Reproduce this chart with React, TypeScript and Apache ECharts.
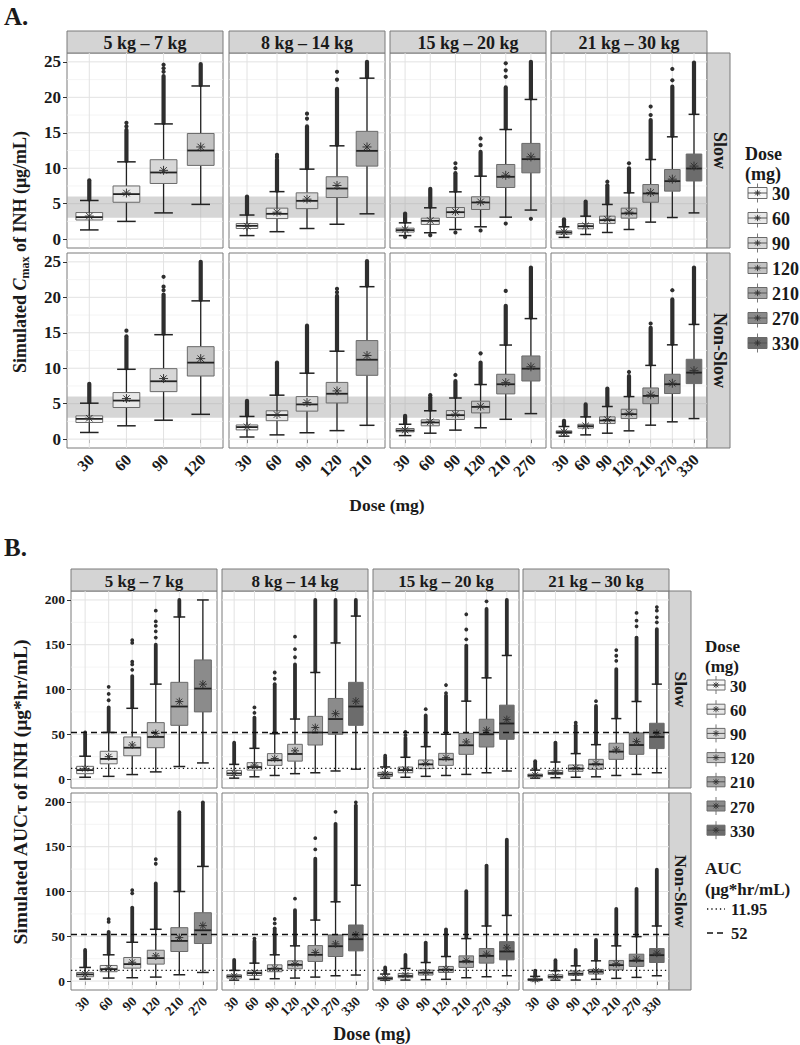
import React, { useEffect, useRef } from "react";
import * as echarts from "echarts";

const DOSES = ["30", "60", "90", "120", "210", "270", "330"];
const WEIGHT_BANDS = ["5 kg – 7 kg", "8 kg – 14 kg", "15 kg – 20 kg", "21 kg – 30 kg"];
const PHENOTYPES = ["Slow", "Non-Slow"];
const DOSE_FILLS = ["#f7f7f7", "#e8e8e8", "#d7d7d7", "#c3c3c3", "#a6a6a6", "#8b8b8b", "#6c6c6c"];

const CMAX_TICKS = [0, 5, 10, 15, 20, 25];
const CMAX_MINOR = [2.5, 7.5, 12.5, 17.5, 22.5];
const CMAX_TARGET_BAND = [3, 6];
const AUC_TICKS = [0, 50, 100, 150, 200];
const AUC_MINOR = [25, 75, 125, 175];
const AUC_TARGETS = [11.95, 52];

// each box: [low whisker, Q1, median, Q3, high whisker, mean, top of dense outliers, [single outliers]]
// ---- A. Cmax, Slow ----
const cmaxSlow5to7 = [
  [1.3, 2.7, 3.1, 3.75, 5.45, 3.25, 8.3, []],
  [2.5, 5.2, 6.35, 7.5, 10.9, 6.5, 15.4, [15.9, 16.4]],
  [3.7, 7.85, 9.4, 11.2, 16.25, 9.7, 23.0, [23.6, 24.1, 24.6]],
  [4.9, 10.4, 12.5, 14.9, 21.6, 13.0, 24.7, []],
];
const cmaxSlow8to14 = [
  [0.5, 1.5, 1.88, 2.2, 3.4, 1.83, 6.0, []],
  [1.05, 2.9, 3.57, 4.37, 6.7, 3.8, 11.2, [11.6, 11.9]],
  [1.5, 4.3, 5.4, 6.53, 9.87, 5.64, 15.9, [17.0, 17.7]],
  [2.1, 5.87, 7.14, 8.8, 13.16, 7.57, 21.2, [22.5, 23.6]],
  [3.57, 10.3, 12.45, 15.2, 22.7, 13.0, 25.0, []],
];
const cmaxSlow15to20 = [
  [0.5, 1.0, 1.27, 1.55, 2.3, 1.36, 3.6, [0.3]],
  [0.9, 2.07, 2.58, 2.96, 4.42, 2.63, 7.1, [0.56]],
  [1.36, 3.05, 3.8, 4.46, 6.67, 3.9, 9.3, [0.94, 10.0, 10.7]],
  [1.74, 4.18, 5.17, 5.97, 8.88, 5.26, 12.3, [1.22, 13.25, 14.2]],
  [3.1, 7.28, 8.79, 10.53, 15.46, 9.0, 21.4, [2.2, 22.9, 23.8, 24.8]],
  [4.1, 9.35, 11.28, 13.5, 19.7, 11.6, 25.0, [2.87]],
];
const cmaxSlow21to30 = [
  [0.25, 0.7, 0.94, 1.17, 1.74, 1.03, 2.8, []],
  [0.66, 1.46, 1.83, 2.2, 3.24, 1.88, 5.3, []],
  [0.94, 2.2, 2.68, 3.24, 4.89, 2.82, 7.6, [8.1]],
  [1.36, 2.96, 3.62, 4.37, 6.53, 3.8, 10.0, [10.7]],
  [2.4, 5.2, 6.44, 7.7, 11.23, 6.58, 16.8, [17.5, 18.7]],
  [3.05, 6.77, 8.18, 9.82, 14.43, 8.46, 21.5, [22.4, 24.0]],
  [3.7, 8.2, 9.96, 12.0, 17.6, 10.3, 24.9, []],
];
// ---- A. Cmax, Non-Slow ----
const cmaxNonSlow5to7 = [
  [0.94, 2.35, 2.86, 3.28, 5.07, 2.95, 7.8, []],
  [1.88, 4.46, 5.44, 6.57, 9.85, 5.72, 14.5, [15.3]],
  [2.67, 6.7, 8.16, 9.94, 14.73, 8.54, 20.4, [21.0, 21.5, 22.9]],
  [3.5, 8.9, 10.79, 13.04, 19.5, 11.35, 25.0, []],
];
const cmaxNonSlow8to14 = [
  [0.3, 1.3, 1.7, 2.0, 3.2, 1.74, 5.4, []],
  [0.6, 2.6, 3.4, 4.0, 6.2, 3.47, 10.8, []],
  [0.9, 3.95, 4.9, 6.0, 9.3, 5.16, 16.0, []],
  [1.2, 5.1, 6.4, 8.0, 12.4, 6.8, 20.2, [20.7, 21.2]],
  [1.95, 9.0, 11.2, 13.9, 21.5, 11.8, 25.1, []],
];
const cmaxNonSlow15to20 = [
  [0.5, 1.03, 1.22, 1.5, 2.1, 1.27, 3.3, []],
  [0.84, 1.88, 2.35, 2.72, 4.0, 2.44, 5.9, [6.2]],
  [1.27, 2.77, 3.38, 4.03, 5.8, 3.52, 8.2, [9.05]],
  [1.6, 3.7, 4.55, 5.35, 7.7, 4.64, 10.8, [12.1]],
  [2.8, 6.38, 7.74, 9.15, 13.27, 7.97, 18.8, [20.9]],
  [3.6, 8.2, 9.94, 11.73, 17.0, 10.2, 24.2, []],
];
const cmaxNonSlow21to30 = [
  [0.42, 0.8, 0.98, 1.17, 1.78, 1.03, 2.58, []],
  [0.6, 1.55, 1.83, 2.1, 3.14, 1.88, 4.9, []],
  [0.84, 2.2, 2.63, 3.14, 4.6, 2.77, 7.13, []],
  [1.17, 2.9, 3.52, 4.22, 6.0, 3.66, 8.9, [9.47]],
  [1.97, 5.0, 6.1, 7.22, 10.4, 6.24, 15.7, [16.3]],
  [2.44, 6.43, 7.74, 9.15, 13.3, 7.88, 19.7, [21.0]],
  [2.9, 7.83, 9.38, 11.26, 16.18, 9.66, 24.2, []],
];
// ---- B. AUC, Slow ----
const aucSlow5to7 = [
  [2, 6, 10, 14.2, 25.5, 11.5, 50, [52]],
  [3, 17, 22.5, 31, 52, 25, 80, [88, 95, 103]],
  [5, 26, 35, 47, 79, 38, 115, [122, 128, 131, 152, 155]],
  [8, 35, 47, 63, 106, 51, 150, [158, 165, 171, 176, 188]],
  [14, 60, 81, 108, 181, 86.5, 200, []],
  [18, 75, 101, 133, 200, 106, null, []],
];
const aucSlow8to14 = [
  [1, 4, 6.3, 9.7, 16.4, 6.5, 39, [40.6]],
  [2.5, 10, 13.4, 18.3, 34.3, 15.5, 68.7, [74, 80]],
  [4, 15.3, 21, 28.4, 50.7, 23, 106, [112, 119]],
  [6, 20, 28, 38.8, 67, 31.5, 128, [136, 145, 159]],
  [7, 38, 52, 70, 119, 57.5, 200, []],
  [9, 50, 67, 90, 152, 73, 200, []],
  [11, 60, 81, 108, 182, 87, 200, []],
];
const aucSlow15to20 = [
  [1, 3, 5, 7.5, 13.5, 5.8, 24, [26]],
  [2, 7, 10, 13.4, 24.3, 10.8, 46, [49, 52.6]],
  [3, 11.6, 16.4, 21.3, 36.2, 17.5, 71, [78]],
  [4, 15.3, 22, 28.7, 50, 23.9, 93, [96, 105]],
  [5.2, 27.6, 37.7, 51, 87, 41.4, 149, [156, 167, 184]],
  [7, 35.8, 50, 66.8, 113, 54.5, 190, [198.5]],
  [9, 44.4, 62, 82.5, 138, 66.4, 200, []],
];
const aucSlow21to30 = [
  [1, 2.5, 4, 5.5, 10, 4.5, 20, []],
  [1.5, 5, 6.7, 9.7, 19, 7.8, 40.7, []],
  [2, 8.6, 11.6, 15.7, 28.4, 12.7, 60, [63]],
  [2.5, 10.8, 16.4, 22, 38.4, 17.5, 81.7, [87]],
  [4, 22, 30.6, 40, 67.5, 32.5, 122.8, [132, 137.7, 144]],
  [5.2, 27.6, 38, 51.5, 86.6, 41.8, 158, [170.5, 177, 185.5]],
  [7, 34, 47, 62.3, 106, 51, 167.5, [175, 180.6, 188, 192]],
];
// ---- B. AUC, Non-Slow ----
const aucNonSlow5to7 = [
  [2.2, 4.8, 7.4, 9.6, 15.2, 7.8, 33, [34.8]],
  [3.3, 10.4, 13.3, 17.4, 29.3, 14.4, 55, [66, 69]],
  [3.7, 14.4, 18.9, 26.3, 43.3, 21, 82, [98, 101.5]],
  [4.4, 18.9, 25.6, 34.4, 57.8, 28.1, 109, [131, 136]],
  [7, 33, 44.8, 59.6, 100, 48.5, 186.7, [188.5]],
  [9.6, 41.9, 56.7, 76.3, 128, 61.9, 199.6, []],
];
const aucNonSlow8to14 = [
  [1, 3.3, 5.2, 7, 11.9, 5.6, 23.7, []],
  [1.9, 6.3, 8.9, 11.5, 20, 9.6, 44.8, [47.4]],
  [2.6, 10.4, 13.7, 18.1, 29.3, 14.4, 58.9, [64.4, 69.3]],
  [3.3, 13.7, 18.1, 22.6, 39.3, 19.3, 79.3, [92]],
  [4.4, 21.9, 29.3, 39.6, 68.1, 31.9, 136.7, [147, 159.6]],
  [5.9, 27.4, 38.9, 51.5, 88.5, 41.5, 175.6, [189]],
  [6.7, 33.7, 46.7, 62.6, 107, 51.5, 196, [199.6]],
];
const aucNonSlow15to20 = [
  [1, 1.5, 3, 4.4, 7.8, 3.3, 15.2, []],
  [1.1, 3.7, 5.6, 8.5, 14, 6.7, 29.3, []],
  [1.5, 6.7, 9.3, 12.2, 20.7, 10, 43, []],
  [1.9, 9.6, 12.6, 16.3, 27.4, 13.3, 57.8, []],
  [3.7, 15.2, 21.5, 28.1, 47.4, 23, 100.4, []],
  [4.8, 20, 28.1, 36.3, 61.5, 30, 128.9, []],
  [5.9, 23.7, 33, 44, 73.3, 37, 157.8, []],
];
const aucNonSlow21to30 = [
  [0.5, 0.7, 1.5, 2.6, 5.2, 1.9, 11.5, []],
  [1, 3.3, 4.8, 7, 11.5, 5.2, 23.3, []],
  [1.1, 6.3, 8.1, 11.1, 17, 8.9, 34.8, []],
  [1.9, 7.8, 10.4, 13, 22.6, 11.1, 45.9, []],
  [3, 12.6, 17.8, 23, 39.3, 19.3, 80.7, []],
  [4.1, 16.3, 22.6, 30, 49.6, 24.4, 103, []],
  [5.9, 20.7, 28.9, 36.3, 61.5, 31.1, 124.4, []],
];

const FONT = '"Liberation Serif", "Times New Roman", serif';
const INK = "#1a1a1a";

type Spec = {
  panels: any[][][];
  colLeft: number[];
  colWidth: number;
  rowTop: number[];
  rowHeight: number;
  stripTop: number;
  stripH: number;
  rightStripW: number;
  yMin: number;
  yMax: number;
  ticks: number[];
  minor: number[];
  band?: number[];
  refs?: number[];
  tickFont: number;
  xFont: number;
  stripFont: number;
  rightStripFont: number;
  dotR: number;
  denseW: number;
  starR: number;
};

function buildFigure(spec: Spec, startIndex: number, grids: any[], xAxes: any[], yAxes: any[], series: any[], graphics: any[]) {
  let g = startIndex;
  for (let r = 0; r < 2; r++) {
    for (let c = 0; c < 4; c++) {
      const rows = spec.panels[r][c];
      const n = rows.length;
      const idx = rows.map((_: any, i: number) => i + 1);
      const bottom = r === 1;
      grids.push({
        left: spec.colLeft[c],
        top: spec.rowTop[r],
        width: spec.colWidth,
        height: spec.rowHeight,
        show: true,
        backgroundColor: "#ffffff",
        borderColor: "#7a7a7a",
        borderWidth: 1,
        containLabel: false,
        outerBoundsMode: "none",
      });
      xAxes.push({
        gridIndex: g,
        type: "value",
        min: 0.4,
        max: n + 0.6,
        splitLine: { show: false },
        axisLine: { show: false },
        axisTick: { show: bottom, customValues: idx, length: 4, lineStyle: { color: "#333" } },
        axisLabel: { show: false },
      });
      yAxes.push({
        gridIndex: g,
        type: "value",
        min: spec.yMin,
        max: spec.yMax,
        splitLine: { show: false },
        axisLine: { show: false },
        axisTick: { show: c === 0, customValues: spec.ticks, length: 4, lineStyle: { color: "#333" } },
        axisLabel: {
          show: c === 0,
          customValues: spec.ticks,
          margin: 6,
          showMinLabel: true,
          showMaxLabel: true,
          fontFamily: FONT,
          fontWeight: "bold",
          fontSize: spec.tickFont,
          color: INK,
        },
      });
      // background grid lines + target band
      series.push({
        type: "custom",
        xAxisIndex: g,
        yAxisIndex: g,
        z: 1,
        silent: true,
        data: [[1, 0]],
        encode: { x: 0, y: 1 },
        renderItem: (_p: any, api: any) => {
          const ch: any[] = [];
          const hline = (v: number, color: string, w: number) => {
            const a = api.coord([0.4, v]);
            const b = api.coord([n + 0.6, v]);
            ch.push({ type: "line", shape: { x1: a[0], y1: a[1], x2: b[0], y2: b[1] }, style: { stroke: color, lineWidth: w } });
          };
          spec.minor.forEach((v) => hline(v, "#f1f1f1", 0.7));
          spec.ticks.forEach((v) => hline(v, "#e2e2e2", 1));
          idx.forEach((k: number) => {
            const a = api.coord([k, spec.yMin]);
            const b = api.coord([k, spec.yMax]);
            ch.push({ type: "line", shape: { x1: a[0], y1: a[1], x2: b[0], y2: b[1] }, style: { stroke: "#e2e2e2", lineWidth: 1 } });
          });
          if (spec.band) {
            const a = api.coord([0.4, spec.band[1]]);
            const b = api.coord([n + 0.6, spec.band[0]]);
            ch.push({ type: "rect", shape: { x: a[0], y: a[1], width: b[0] - a[0], height: b[1] - a[1] }, style: { fill: "rgba(165,165,165,0.45)" } });
          }
          return { type: "group", children: ch };
        },
      });
      // rotated dose labels under the bottom row
      if (bottom) {
        series.push({
          type: "custom",
          xAxisIndex: g,
          yAxisIndex: g,
          z: 6,
          silent: true,
          clip: false,
          data: idx.map((k: number) => [k, spec.yMin]),
          encode: { x: 0, y: 1 },
          renderItem: (params: any, api: any) => {
            const p = api.coord([api.value(0), spec.yMin]);
            return {
              type: "text",
              x: p[0] + 2,
              y: p[1] + 9,
              rotation: Math.PI / 4,
              style: {
                text: DOSES[params.dataIndex],
                font: `bold ${spec.xFont}px ${FONT}`,
                fill: INK,
                align: "right",
                verticalAlign: "middle",
                textAlign: "right",
                textVerticalAlign: "middle",
              },
            };
          },
        });
      }
      // boxes
      const boxHalf = 0.36;
      const capHalf = 0.25;
      series.push({
        type: "custom",
        xAxisIndex: g,
        yAxisIndex: g,
        z: 3,
        silent: true,
        data: rows.map((row: any[], i: number) => [i + 1, row[0], row[6] == null ? row[4] : row[6]]),
        encode: { x: 0, y: [1, 2] },
        renderItem: (params: any, api: any) => {
          const i = params.dataIndex;
          const [lo, q1, med, q3, hi, mean, dense, dots] = rows[i];
          const x = i + 1;
          const P = (xx: number, yy: number) => api.coord([xx, yy]);
          const ch: any[] = [];
          const line = (a: number[], b: number[], stroke: string, w: number) =>
            ch.push({ type: "line", shape: { x1: a[0], y1: a[1], x2: b[0], y2: b[1] }, style: { stroke, lineWidth: w, lineCap: "butt" } });
          if (dense != null) {
            const a = P(x, hi);
            const b = P(x, dense);
            ch.push({ type: "line", shape: { x1: a[0], y1: a[1] - 1, x2: b[0], y2: b[1] }, style: { stroke: "#2e2e2e", lineWidth: spec.denseW, lineCap: "round" } });
          }
          (dots as number[]).forEach((v) => {
            const p = P(x, v);
            ch.push({ type: "circle", shape: { cx: p[0], cy: p[1], r: spec.dotR }, style: { fill: "#2e2e2e" } });
          });
          // whiskers
          line(P(x, lo), P(x, q1), "#222", 1.3);
          line(P(x, q3), P(x, hi), "#222", 1.3);
          line(P(x - capHalf, lo), P(x + capHalf, lo), "#222", 1.5);
          line(P(x - capHalf, hi), P(x + capHalf, hi), "#222", 1.5);
          // box
          const tl = P(x - boxHalf, q3);
          const br = P(x + boxHalf, q1);
          ch.push({
            type: "rect",
            shape: { x: tl[0], y: tl[1], width: br[0] - tl[0], height: br[1] - tl[1] },
            style: { fill: DOSE_FILLS[i], stroke: "#6a6a6a", lineWidth: 1 },
          });
          line(P(x - boxHalf, med), P(x + boxHalf, med), "#222", 1.8);
          // mean asterisk
          const m = P(x, mean);
          const s = spec.starR;
          const d = s * 0.72;
          line([m[0], m[1] - s], [m[0], m[1] + s], "#333", 1);
          line([m[0] - s, m[1]], [m[0] + s, m[1]], "#333", 1);
          line([m[0] - d, m[1] - d], [m[0] + d, m[1] + d], "#333", 1);
          line([m[0] - d, m[1] + d], [m[0] + d, m[1] - d], "#333", 1);
          return { type: "group", children: ch };
        },
      });
      if (spec.refs) {
        series.push({
          type: "custom",
          xAxisIndex: g,
          yAxisIndex: g,
          z: 5,
          silent: true,
          data: [[1, 0]],
          encode: { x: 0, y: 1 },
          renderItem: (_p: any, api: any) => {
            const ch: any[] = [];
            spec.refs!.forEach((v, k) => {
              const a = api.coord([0.4, v]);
              const b = api.coord([n + 0.6, v]);
              ch.push({
                type: "line",
                shape: { x1: a[0], y1: a[1], x2: b[0], y2: b[1] },
                style: { stroke: "#111", lineWidth: 1.3, lineDash: k === 0 ? [1.3, 3] : [6, 4] },
              });
            });
            return { type: "group", children: ch };
          },
        });
      }
      g++;
    }
  }
  // strips
  for (let c = 0; c < 4; c++) {
    graphics.push({
      type: "rect",
      shape: { x: spec.colLeft[c], y: spec.stripTop, width: spec.colWidth, height: spec.stripH },
      style: { fill: "#d4d4d4", stroke: "#7a7a7a", lineWidth: 1 },
    });
    graphics.push({
      type: "text",
      x: spec.colLeft[c] + spec.colWidth / 2,
      y: spec.stripTop + spec.stripH / 2 + 1,
      style: {
        text: WEIGHT_BANDS[c],
        font: `bold ${spec.stripFont}px ${FONT}`,
        fill: INK,
        align: "center",
        verticalAlign: "middle",
        textAlign: "center",
        textVerticalAlign: "middle",
      },
    });
  }
  const rx = spec.colLeft[3] + spec.colWidth;
  for (let r = 0; r < 2; r++) {
    graphics.push({
      type: "rect",
      shape: { x: rx, y: spec.rowTop[r], width: spec.rightStripW, height: spec.rowHeight },
      style: { fill: "#d4d4d4", stroke: "#7a7a7a", lineWidth: 1 },
    });
    graphics.push({
      type: "text",
      x: rx + spec.rightStripW / 2 + 1,
      y: spec.rowTop[r] + spec.rowHeight / 2,
      rotation: -Math.PI / 2,
      style: {
        text: PHENOTYPES[r],
        font: `bold ${spec.rightStripFont}px ${FONT}`,
        fill: INK,
        align: "center",
        verticalAlign: "middle",
        textAlign: "center",
        textVerticalAlign: "middle",
      },
    });
  }
  return g;
}

function legendKeys(x0: number, y0: number, step: number, keyW: number, keyH: number, font: number, graphics: any[]) {
  DOSES.forEach((d, i) => {
    const yc = y0 + step * i;
    const cx = x0 + keyW / 2;
    graphics.push({ type: "line", shape: { x1: cx, y1: yc - keyH / 2 - 4, x2: cx, y2: yc + keyH / 2 + 4 }, style: { stroke: "#777", lineWidth: 1 } });
    graphics.push({ type: "rect", shape: { x: x0, y: yc - keyH / 2, width: keyW, height: keyH }, style: { fill: DOSE_FILLS[i], stroke: "#6a6a6a", lineWidth: 1 } });
    graphics.push({ type: "line", shape: { x1: x0, y1: yc, x2: x0 + keyW, y2: yc }, style: { stroke: "#555", lineWidth: 1 } });
    const s = 3.2;
    const dd = s * 0.72;
    [
      [0, -s, 0, s],
      [-s, 0, s, 0],
      [-dd, -dd, dd, dd],
      [-dd, dd, dd, -dd],
    ].forEach(([a, b, c, e]) =>
      graphics.push({ type: "line", shape: { x1: cx + a, y1: yc + b, x2: cx + c, y2: yc + e }, style: { stroke: "#333", lineWidth: 0.9 } })
    );
    graphics.push({
      type: "text",
      x: x0 + keyW + 5,
      y: yc + 1,
      style: { text: d, font: `bold ${font}px ${FONT}`, fill: INK, align: "left", verticalAlign: "middle", textAlign: "left", textVerticalAlign: "middle" },
    });
  });
}

function txt(text: string, x: number, y: number, size: number, align = "left", rotation = 0) {
  return {
    type: "text",
    x,
    y,
    rotation,
    style: { text, font: `bold ${size}px ${FONT}`, fill: INK, align, verticalAlign: "middle", textAlign: align, textVerticalAlign: "middle" },
  };
}

export default function App() {
  const ref = useRef<HTMLDivElement>(null);
  useEffect(() => {
    document.body.style.margin = "0";
    const chart = echarts.init(ref.current!, null, { renderer: "svg" });
    const grids: any[] = [];
    const xAxes: any[] = [];
    const yAxes: any[] = [];
    const series: any[] = [];
    const graphics: any[] = [];

    const specA: Spec = {
      panels: [
        [cmaxSlow5to7, cmaxSlow8to14, cmaxSlow15to20, cmaxSlow21to30],
        [cmaxNonSlow5to7, cmaxNonSlow8to14, cmaxNonSlow15to20, cmaxNonSlow21to30],
      ],
      colLeft: [67, 229, 390, 551],
      colWidth: 156,
      rowTop: [53, 253],
      rowHeight: 195,
      stripTop: 31,
      stripH: 22,
      rightStripW: 23,
      yMin: -1.25,
      yMax: 26.25,
      ticks: CMAX_TICKS,
      minor: CMAX_MINOR,
      band: CMAX_TARGET_BAND,
      tickFont: 17,
      xFont: 16,
      stripFont: 18,
      rightStripFont: 18,
      dotR: 2.1,
      denseW: 4.2,
      starR: 4.5,
    };
    const specB: Spec = {
      panels: [
        [aucSlow5to7, aucSlow8to14, aucSlow15to20, aucSlow21to30],
        [aucNonSlow5to7, aucNonSlow8to14, aucNonSlow15to20, aucNonSlow21to30],
      ],
      colLeft: [71, 222, 373, 523],
      colWidth: 146,
      rowTop: [591, 793],
      rowHeight: 197,
      stripTop: 569,
      stripH: 22,
      rightStripW: 22,
      yMin: -10,
      yMax: 210,
      ticks: AUC_TICKS,
      minor: AUC_MINOR,
      refs: AUC_TARGETS,
      tickFont: 13.5,
      xFont: 13.5,
      stripFont: 17,
      rightStripFont: 17.5,
      dotR: 1.9,
      denseW: 3.8,
      starR: 4,
    };
    let g = buildFigure(specA, 0, grids, xAxes, yAxes, series, graphics);
    buildFigure(specB, g, grids, xAxes, yAxes, series, graphics);

    // panel titles
    graphics.push(txt("A.", 4, 16, 25));
    graphics.push(txt("B.", 4, 547, 25));
    // axis titles
    graphics.push({
      type: "text",
      x: 20,
      y: 252,
      rotation: Math.PI / 2,
      style: {
        text: "{b|Simulated }{i|C}{s|max}{b| of INH (μg/mL)}",
        align: "center",
        verticalAlign: "middle",
        textAlign: "center",
        textVerticalAlign: "middle",
        rich: {
          b: { font: `bold 18px ${FONT}`, fill: INK, color: INK, lineHeight: 22, verticalAlign: "middle" },
          i: { font: `italic bold 18px ${FONT}`, fill: INK, color: INK, lineHeight: 22, verticalAlign: "middle" },
          s: { font: `bold 12px ${FONT}`, fill: INK, color: INK, lineHeight: 22, verticalAlign: "bottom", padding: [6, 0, 0, 0] },
        },
      },
    });
    graphics.push(txt("Simulated AUCτ of INH (μg*hr/mL)", 20, 792, 19.5, "center", Math.PI / 2));
    graphics.push(txt("Dose (mg)", 387, 505, 17.5, "center"));
    graphics.push(txt("Dose (mg)", 372, 1034, 18, "center"));

    // legend A
    graphics.push(txt("Dose", 745, 154, 18));
    graphics.push(txt("(mg)", 745, 174, 18));
    legendKeys(748, 193, 25, 19, 11, 18, graphics);
    // legend B
    graphics.push(txt("Dose", 705, 646, 17));
    graphics.push(txt("(mg)", 705, 666, 17));
    legendKeys(707, 685, 24.2, 18, 10, 16.5, graphics);
    graphics.push(txt("AUC", 705, 868, 17));
    graphics.push(txt("(μg*hr/mL)", 705, 889, 17));
    graphics.push({ type: "line", shape: { x1: 707, y1: 909, x2: 725, y2: 909 }, style: { stroke: "#111", lineWidth: 1.3, lineDash: [1.3, 3] } });
    graphics.push(txt(String(AUC_TARGETS[0]), 731, 909, 16.5));
    graphics.push({ type: "line", shape: { x1: 707, y1: 933, x2: 725, y2: 933 }, style: { stroke: "#111", lineWidth: 1.3, lineDash: [6, 4] } });
    graphics.push(txt(String(AUC_TARGETS[1]), 731, 933, 16.5));

    chart.setOption({
      animation: false,
      backgroundColor: "#ffffff",
      grid: grids,
      xAxis: xAxes,
      yAxis: yAxes,
      series,
      graphic: { elements: graphics },
    });
    return () => chart.dispose();
  }, []);
  return <div ref={ref} style={{ width: 800, height: 1045 }} />;
}
